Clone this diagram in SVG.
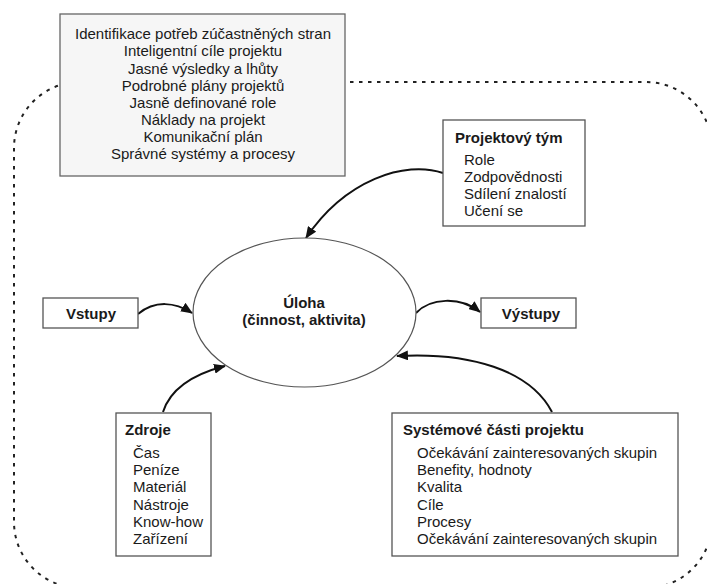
<svg xmlns="http://www.w3.org/2000/svg" width="707" height="584" viewBox="0 0 707 584">
<style>
text{font-family:"Liberation Sans",Arial,sans-serif;font-size:15px;fill:#1a1a1a}
.b{font-weight:bold}
.c{text-anchor:middle}
.box{fill:#fff;stroke:#555;stroke-width:1.3}
.conn{fill:none;stroke:#111;stroke-width:2}
</style>
<defs>
<marker id="ah" markerUnits="userSpaceOnUse" markerWidth="12" markerHeight="10" refX="11" refY="5" orient="auto">
<path d="M0,0 L12,5 L0,10 Z" fill="#111"/>
</marker>
</defs>
<rect width="707" height="584" fill="#fff"/>
<g id="frame">
<rect x="14" y="82" width="698" height="506" rx="66" ry="66" fill="none" stroke="#222" stroke-width="2" stroke-dasharray="3.5 5.5"/>
</g>
<g id="connectors">
<path class="conn" d="M138,314 C155,300 175,302 192,313" marker-end="url(#ah)"/>
<path class="conn" d="M416,313 C430,298 460,296 480,312" marker-end="url(#ah)"/>
<path class="conn" d="M443,173 C405,160 345,180 306,238" marker-end="url(#ah)"/>
<path class="conn" d="M163,412 C170,390 190,375 225,366" marker-end="url(#ah)"/>
<path class="conn" d="M552,412 C530,370 470,352 397,356" marker-end="url(#ah)"/>
</g>
<g id="top">
<rect x="60" y="14" width="285" height="162" fill="#f6f6f6" stroke="#666" stroke-width="1.3"/>
<text class="c" x="203" y="39">Identifikace potřeb zúčastněných stran</text>
<text class="c" x="203" y="56">Inteligentní cíle projektu</text>
<text class="c" x="203" y="73.5">Jasné výsledky a lhůty</text>
<text class="c" x="203" y="90.5">Podrobné plány projektů</text>
<text class="c" x="203" y="108">Jasně definované role</text>
<text class="c" x="203" y="125">Náklady na projekt</text>
<text class="c" x="203" y="142">Komunikační plán</text>
<text class="c" x="203" y="159">Správné systémy a procesy</text>
</g>
<g id="tym">
<rect class="box" x="443" y="120" width="142" height="106"/>
<text class="b" x="455" y="143">Projektový tým</text>
<text x="464" y="165">Role</text>
<text x="464" y="182">Zodpovědnosti</text>
<text x="464" y="199">Sdílení znalostí</text>
<text x="464" y="216">Učení se</text>
</g>
<g id="uloha">
<ellipse cx="304.5" cy="312.5" rx="111.5" ry="74.5" fill="#fff" stroke="#555" stroke-width="1.2"/>
<text class="b c" x="304" y="308">Úloha</text>
<text class="b c" x="304" y="325">(činnost, aktivita)</text>
</g>
<g id="vstupy">
<rect class="box" x="43" y="298" width="95" height="30"/>
<text class="b c" x="91" y="319">Vstupy</text>
</g>
<g id="vystupy">
<rect class="box" x="481" y="298" width="95" height="30"/>
<text class="b c" x="531" y="319">Výstupy</text>
</g>
<g id="zdroje">
<rect class="box" x="116" y="413" width="95" height="143"/>
<text class="b" x="125" y="435">Zdroje</text>
<text x="133" y="458">Čas</text>
<text x="133" y="475">Peníze</text>
<text x="133" y="492">Materiál</text>
<text x="133" y="510">Nástroje</text>
<text x="133" y="527">Know-how</text>
<text x="133" y="544">Zařízení</text>
</g>
<g id="systemove">
<rect class="box" x="392" y="413" width="286" height="143"/>
<text class="b" x="403" y="435">Systémové části projektu</text>
<text x="417" y="458">Očekávání zainteresovaných skupin</text>
<text x="417" y="475">Benefity, hodnoty</text>
<text x="417" y="492">Kvalita</text>
<text x="417" y="510">Cíle</text>
<text x="417" y="527">Procesy</text>
<text x="417" y="544">Očekávání zainteresovaných skupin</text>
</g>
</svg>
